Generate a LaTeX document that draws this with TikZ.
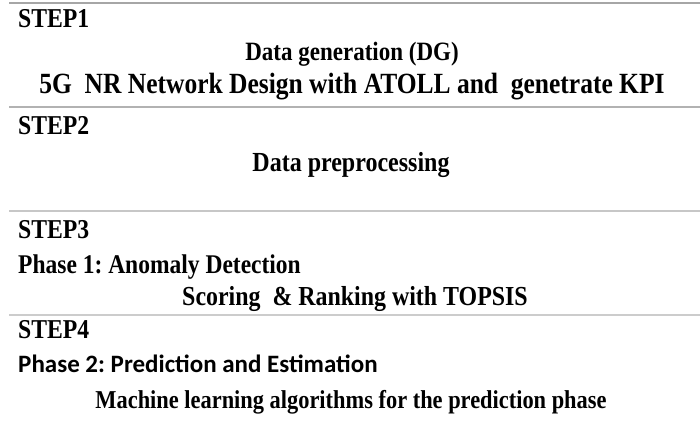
\documentclass[tikz,border=0pt]{standalone}
\usepackage{fontspec}
\setmainfont{Liberation Serif}[FakeStretch=0.87]
\newfontfamily\carlito{Carlito}
\newcommand\fsz[1]{\fontsize{#1}{#1}\selectfont}
\newcommand\sfs[1]{\pgfmathsetmacro\tmpsz{#1/0.87}\fontsize{\tmpsz}{\tmpsz}\selectfont}
\frenchspacing
\begin{document}
\begin{tikzpicture}[x=1pt,y=-1pt,
  sep/.style={draw=black!30,line width=1.2pt},
  steplabel/.style={anchor=mid west,inner sep=0pt,font=\frenchspacing\bfseries\sfs{23.7}},
  title/.style={anchor=mid,inner sep=0pt,font=\frenchspacing\bfseries\sfs{23}},
  phase/.style={anchor=mid west,inner sep=0pt,font=\frenchspacing\bfseries\sfs{23.5}},
  phasesans/.style={anchor=mid west,inner sep=0pt,font=\frenchspacing\carlito\bfseries\fsz{25}}]
\useasboundingbox (0,0) rectangle (700,421);
\coordinate (l1a) at (9,3);   \coordinate (l1b) at (700,3);
\coordinate (l2a) at (9,107); \coordinate (l2b) at (700,107);
\coordinate (l3a) at (9,211); \coordinate (l3b) at (700,211);
\coordinate (l4a) at (9,315); \coordinate (l4b) at (700,315);
\draw[sep,draw=black!35] (l1a) -- (l1b);
\draw[sep] (l2a) -- (l2b);
\draw[sep,draw=black!22] (l3a) -- (l3b);
\draw[sep,draw=black!20] (l4a) -- (l4b);
\node[steplabel] (s1) at (18,25) {STEP1};
\node[title] (dg) at (352,58) {Data generation (DG)};
\node[title,font=\frenchspacing\bfseries\sfs{25.5}] (nr) at (352,91) {5G\ \ NR Network Design with ATOLL and\ \ genetrate KPI};
\node[steplabel] (s2) at (18,132) {STEP2};
\node[title,font=\frenchspacing\bfseries\sfs{24}] (dp) at (351,169) {Data preprocessing};
\node[steplabel] (s3) at (18,236) {STEP3};
\node[phase] (p1) at (18,271) {Phase 1: Anomaly Detection};
\node[title,font=\frenchspacing\bfseries\sfs{23.9}] (sr) at (355,303) {Scoring\ \ \& Ranking with TOPSIS};
\node[steplabel] (s4) at (18,336) {STEP4};
\node[phasesans] (p2) at (18,370) {Phase 2: Prediction and Estimation};
\node[title,font=\frenchspacing\bfseries\sfs{22.4}] (ml) at (351,406) {Machine learning algorithms for the prediction phase};
\end{tikzpicture}
\end{document}
